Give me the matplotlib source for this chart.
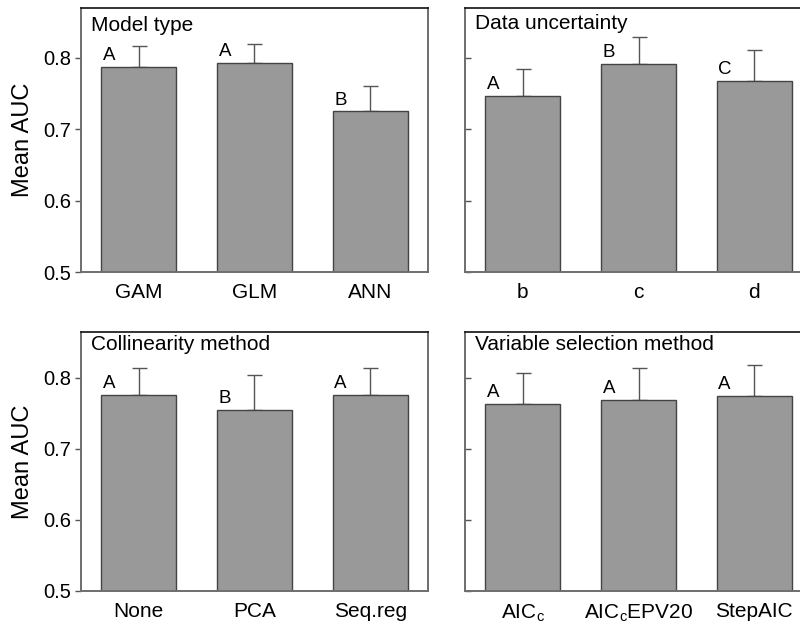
import matplotlib
matplotlib.use("Agg")
import matplotlib.pyplot as plt
import numpy as np

plt.rcParams['font.family'] = ['Liberation Sans', 'DejaVu Sans']
plt.rcParams['mathtext.fontset'] = 'custom'
plt.rcParams['mathtext.rm'] = 'Liberation Sans'

# Data
model_labels = ["GAM", "GLM", "ANN"]
model_mean = [0.788, 0.793, 0.725]
model_err = [0.029, 0.027, 0.035]
model_groups = ["A", "A", "B"]

data_labels = ["b", "c", "d"]
data_mean = [0.747, 0.792, 0.768]
data_err = [0.038, 0.037, 0.043]
data_groups = ["A", "B", "C"]

coll_labels = ["None", "PCA", "Seq.reg"]
coll_mean = [0.776, 0.754, 0.776]
coll_err = [0.038, 0.050, 0.037]
coll_groups = ["A", "B", "A"]

var_labels = [r"AIC$_{\mathrm{c}}$", r"AIC$_{\mathrm{c}}$EPV20", "StepAIC"]
var_mean = [0.763, 0.769, 0.774]
var_err = [0.043, 0.044, 0.044]
var_groups = ["A", "A", "A"]

panels = [
    ("Model type", model_labels, model_mean, model_err, model_groups, 0.870),
    ("Data uncertainty", data_labels, data_mean, data_err, data_groups, 0.870),
    ("Collinearity method", coll_labels, coll_mean, coll_err, coll_groups, 0.864),
    ("Variable selection method", var_labels, var_mean, var_err, var_groups, 0.864),
]

W, H = 800, 625
fig = plt.figure(figsize=(8, 6.25), dpi=100)

# axes boxes in pixels: left, top, right, bottom
boxes = [(81, 8, 428, 272), (465, 8, 812, 272),
         (81, 332, 428, 591), (465, 332, 812, 591)]
title_drop = [8, 6, 3, 3]  # px below the top spine

bar_w = 75 / 116

for i, ((title, labels, mean, err, groups, ytop), (l, t, r, b)) in enumerate(zip(panels, boxes)):
    ax = fig.add_axes([l / W, (H - b) / H, (r - l) / W, (b - t) / H])
    x = np.arange(len(labels))
    ax.bar(x, mean, width=bar_w, color='#999999', edgecolor='#444444', linewidth=1.0, zorder=2)
    ax.errorbar(x, mean, yerr=[np.zeros(len(err)), err], fmt='none', ecolor='#555555',
                elinewidth=1.0, capsize=5.4, capthick=1.0, zorder=1)
    for xi, m, g in zip(x, mean, groups):
        ax.annotate(g, (xi - bar_w / 2, m), xytext=(1, 2), textcoords='offset points',
                    ha='left', va='bottom', fontsize=13.5)
    ax.set_xlim(-0.5, 2.5)
    ax.set_ylim(0.5, ytop)
    ax.set_xticks(x)
    ax.set_xticklabels(labels, fontsize=15)
    ax.tick_params(axis='x', length=0, pad=8)
    ax.set_yticks([0.5, 0.6, 0.7, 0.8])
    if i % 2 == 0:
        ax.set_yticklabels(["0.5", "0.6", "0.7", "0.8"], fontsize=14.5)
        ax.tick_params(axis='y', direction='out', length=4, width=1, color='#555555', pad=3)
        ax.set_ylabel("Mean AUC", fontsize=17, labelpad=7)
    else:
        ax.set_yticklabels([])
        ax.tick_params(axis='y', direction='in', length=4, width=1, color='#555555')
    for side in ['left', 'right', 'bottom']:
        ax.spines[side].set_color('#6e6e6e')
        ax.spines[side].set_linewidth(1.4)
    ax.spines['top'].set_color('#111111')
    ax.spines['top'].set_linewidth(1.2)
    ax.text(0.03, 1 - title_drop[i] / (b - t), title, transform=ax.transAxes,
            ha='left', va='top', fontsize=15)

fig.savefig('out.png', dpi=100)
